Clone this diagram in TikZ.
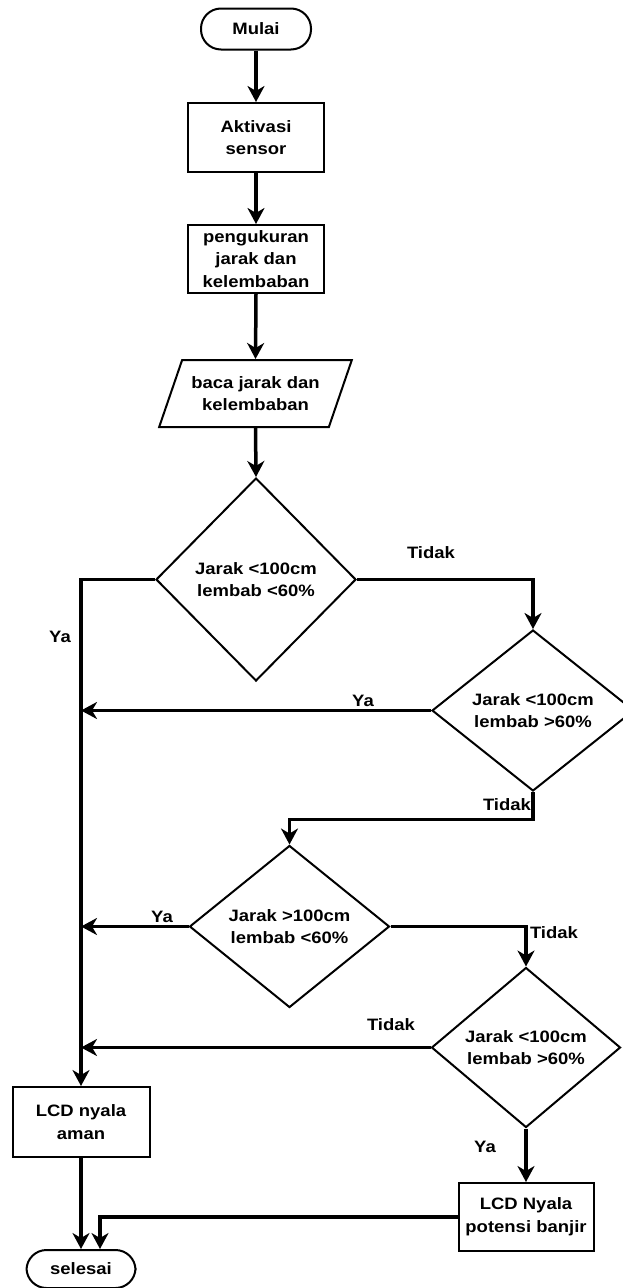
\documentclass[tikz,border=0pt]{standalone}
\usepackage{fontspec}
\setmainfont{Liberation Sans}[FakeStretch=1.12]
\usetikzlibrary{shapes.geometric,arrows.meta}
\begin{document}
\begin{tikzpicture}[x=1pt,y=-1pt,
  txt/.style={font=\bfseries\fontsize{16.5}{22.7}\selectfont, align=center, inner sep=0pt},
  shp/.style={txt, draw, line width=2pt, fill=white},
  term/.style={shp, rectangle, rounded corners=20pt, minimum height=41pt},
  box/.style={shp, rectangle},
  dec/.style={shp, diamond},
  io/.style={shp, trapezium, trapezium left angle=60, trapezium right angle=120, trapezium stretches=true},
  conn/.style={line width=3.5pt, -{Stealth[length=16pt,width=17pt,inset=5pt]}},
  lbl/.style={txt}
]
\useasboundingbox (0,0) rectangle (623,1288);
\fill[white] (0,0) rectangle (623,1288);

% nodes
\node[term, minimum width=110pt] (start) at (256,29) {Mulai};
\node[box, minimum width=136pt, minimum height=69pt] (act) at (256,137.5) {Aktivasi\\sensor};
\node[box, minimum width=136pt, minimum height=68pt] (meas) at (256,259) {pengukuran\\jarak dan\\kelembaban};
\node[io, minimum width=193pt, minimum height=67pt] (read) at (255.5,393.5) {baca jarak dan\\kelembaban};
\node[dec, aspect=1, minimum width=200pt, minimum height=203pt] (d1) at (256,579.5) {Jarak <100cm\\lembab <60\%};
\node[dec, aspect=1.2, minimum width=202pt, minimum height=161pt] (d2) at (533,710.5) {Jarak <100cm\\lembab >60\%};
\node[dec, aspect=1.23, minimum width=200pt, minimum height=162pt] (d3) at (289.5,926.5) {Jarak >100cm\\lembab <60\%};
\node[dec, aspect=1.2, minimum width=189pt, minimum height=160pt] (d4) at (526,1047.5) {Jarak <100cm\\lembab >60\%};
\node[box, minimum width=137pt, minimum height=70pt] (aman) at (81,1122) {LCD nyala\\aman};
\node[box, minimum width=135pt, minimum height=68pt] (banjir) at (526,1217) {LCD Nyala\\potensi banjir};
\node[term, minimum width=109pt, minimum height=38pt] (stop) at (81,1269) {selesai};

% connectors
\draw[conn] (start.south) -- (act.north);
\draw[conn] (act.south) -- (meas.north);
\draw[conn] (meas.south) -- (read.north);
\draw[conn] (read.south) -- (d1.north);
\draw[conn] (d1.west) -| (aman.north);
\draw[conn] (d1.east) -| (d2.north);
\draw[conn] (d2.west) -- (d2.west -| aman.north);
\draw[conn] (d2.south) -- ++(0,27.5) -| (d3.north);
\draw[conn] (d3.west) -- (d3.west -| aman.north);
\draw[conn] (d3.east) -| (d4.north);
\draw[conn] (d4.west) -- (d4.west -| aman.north);
\draw[conn] (d4.south) -- (banjir.north);
\draw[conn] (aman.south) -- (stop.north);
\draw[conn] (banjir.west) -| ([xshift=19pt]stop.north);

% labels
\node[lbl] (l1) at (60,637) {Ya};
\node[lbl] (l2) at (431,553) {Tidak};
\node[lbl] (l3) at (363,701) {Ya};
\node[lbl] (l4) at (507,805) {Tidak};
\node[lbl] (l5) at (162,917) {Ya};
\node[lbl] (l6) at (554,933) {Tidak};
\node[lbl] (l7) at (391,1025) {Tidak};
\node[lbl] (l8) at (485,1147) {Ya};
\end{tikzpicture}
\end{document}
